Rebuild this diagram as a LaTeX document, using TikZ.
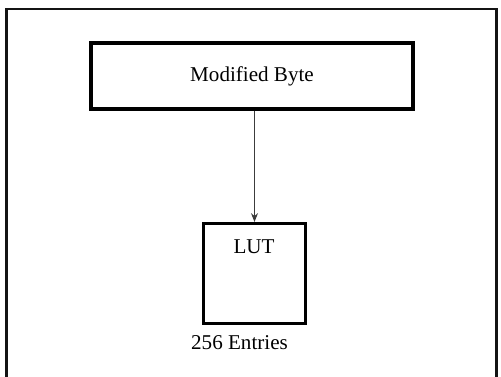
\documentclass[tikz,border=0pt]{standalone}
\usepackage{fontspec}
\setmainfont{Liberation Serif}
\usetikzlibrary{arrows.meta}
\definecolor{framec}{RGB}{20,20,20}
\definecolor{arrowc}{RGB}{60,60,60}

\begin{document}
\begin{tikzpicture}[x=0.02cm, y=-0.02cm, font=\fontsize{12}{14}\selectfont]
		\clip (0,0) rectangle (501,376);
		\draw[color=framec, line width=1.3pt] (6.5,9) rectangle (496.5,400);
		\draw[color=framec, line width=1.7pt] (6.5,9) -- (6.5,400);
		
		\node[draw, line width=1.8pt, minimum width=322*0.02cm, minimum height=66*0.02cm] (byte) at (252,76) {Modified Byte};
		\node[draw, line width=1.8pt, minimum width=102*0.02cm, minimum height=100*0.02cm] (lut) at (254.5,273.5) {};
		\node (luttext) at (254,247) {LUT};
		\node (entries) at (239.5,343) {256 Entries};
		
		\draw[-{Stealth[length=5pt, width=4pt]}, color=arrowc, line width=0.6pt] (lut.north |- byte.south) -- (lut.north);
		\end{tikzpicture}
\end{document}
